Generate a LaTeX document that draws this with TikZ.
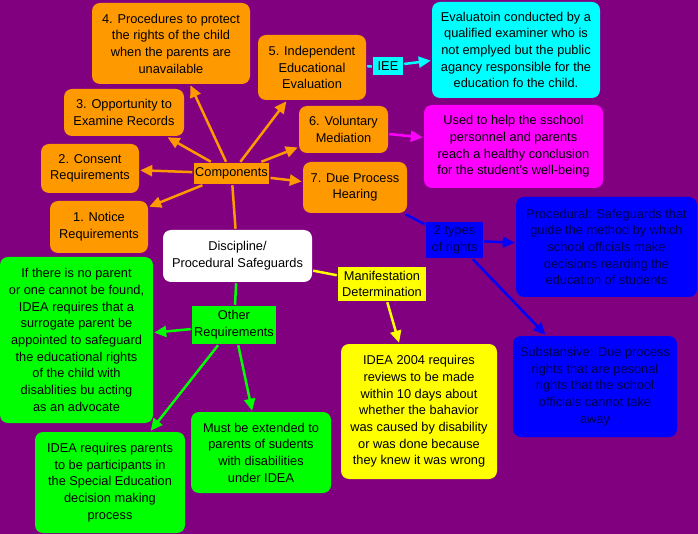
\documentclass[tikz,border=0pt]{standalone}
\usepackage{fontspec}
\setmainfont{Liberation Sans}
\usepackage{tikz}
\usetikzlibrary{arrows.meta}

\definecolor{bgpurple}{RGB}{128,0,128}
\definecolor{corange}{RGB}{255,153,0}
\definecolor{cgreen}{RGB}{0,255,0}
\definecolor{ccyan}{RGB}{0,255,255}
\definecolor{cmagenta}{RGB}{255,0,255}
\definecolor{cyellow}{RGB}{255,255,0}
\definecolor{cblue}{RGB}{0,0,255}
\definecolor{cnavy}{RGB}{0,0,80}

\begin{document}
\begin{tikzpicture}[x=1pt,y=-1pt,
	> = {Triangle[length=12pt,width=11pt]}, % arrow head style
	line width=2.5pt, % line style
	every node/.style={align=center,inner sep=0pt,font=\fontsize{12.8}{16.7}\selectfont},
	sz/.style 2 args={minimum width=#1,minimum height=#2},
	box/.style={rounded corners=8pt},
	lbl/.style={inner xsep=1.5pt}]

	% background
	\fill[bgpurple] (0,0) rectangle (698,534);
	\useasboundingbox (0,0) rectangle (698,534);

	% centre
	\node[box,fill=white,sz={149}{52}] (disc) at (237.5,256) {Discipline/\\Procedural Safeguards};

	% components
	\node[lbl,fill=corange,sz={73}{21}] (comp) at (231.5,173.5) {Components};
	\node[box,fill=corange,sz={98}{52}] (c1) at (99,227) {1. Notice\\Requirements};
	\node[box,fill=corange,sz={98}{49}] (c2) at (90,168.5) {2. Consent\\Requirements};
	\node[box,fill=corange,sz={120}{47}] (c3) at (124,112.5) {3. Opportunity to\\Examine Records};
	\node[box,fill=corange,sz={158}{81}] (c4) at (171,43.5) {4. Procedures to protect\\the rights of the child\\when the parents are\\unavailable};
	\node[box,fill=corange,sz={108}{65}] (c5) at (312,67.5) {5. Independent\\Educational\\Evaluation};
	\node[box,fill=corange,sz={89}{47}] (c6) at (343.5,129.5) {6. Voluntary\\Mediation};
	\node[box,fill=corange,sz={104}{51}] (c7) at (355,187.5) {7. Due Process\\Hearing};

	\node[lbl,fill=ccyan,sz={30}{18}] (iee) at (388,66) {IEE};
	\node[box,fill=ccyan,sz={168}{96}] (eval) at (516,50) {Evaluatoin conducted by a\\qualified examiner who is\\not emplyed but the public\\agancy responsible for the\\education fo the child.};
	\node[box,fill=cmagenta,sz={179}{83}] (medi) at (513.5,146.5) {Used to help the sschool\\personnel and parents\\reach a healthy conclusion\\for the student's well-being};

	\node[lbl,fill=cblue,text=cnavy,sz={57}{36}] (types) at (454.5,240) {2 types\\of rights};
	\node[box,fill=cblue,text=cnavy,sz={181}{100}] (proc) at (606.5,247) {Procedural: Safeguards that\\guide the method by which\\school officials make\\decisions rearding the\\education of students};
	\node[box,fill=cblue,text=cnavy,sz={164}{101}] (subs) at (595,386.5) {Substansive: Due process\\rights that are pesonal\\rights that the school\\officials cannot take\\away};

	% manifestation
	\node[lbl,fill=cyellow,sz={88}{34}] (mani) at (382,284) {Manifestation\\Determination};
	\node[box,fill=cyellow,sz={156}{135}] (revw) at (419,411.5) {IDEA 2004 requires\\reviews to be made\\within 10 days about\\whether the bahavior\\was caused by disability\\or was done because\\they knew it was wrong};

	% other requirements
	\node[lbl,fill=cgreen,sz={84}{38}] (other) at (234,325) {Other\\Requirements};
	\node[box,fill=cgreen,sz={153}{166}] (surr) at (76.5,340) {If there is no parent\\or one cannot be found,\\IDEA requires that a\\surrogate parent be\\appointed to safeguard\\the educational rights\\of the child with\\disablities bu acting\\as an advocate};
	\node[box,fill=cgreen,sz={150}{101}] (part) at (110,482.5) {IDEA requires parents\\to be participants in\\the Special Education\\decision making\\process};
	\node[box,fill=cgreen,sz={140}{81}] (ext) at (261,452.5) {Must be extended to\\parents of sudents\\with disabilities\\under IDEA};

	\draw[corange] (disc)--(comp);
	\draw[corange,->] (comp)--(c1);
	\draw[corange,->] (comp)--(c2);
	\draw[corange,->] (comp)--(c3);
	\draw[corange,->] (comp)--(c4);
	\draw[corange,->] (comp)--(c5);
	\draw[corange,->] (comp)--(c6);
	\draw[corange,->] (comp)--(c7);

	\draw[ccyan] (c5)--(iee);
	\draw[ccyan,->] (iee)--(eval);
	\draw[cmagenta,->] (c6)--(medi);

	\draw[cblue] (c7)--(types);
	\draw[cblue,->] (types)--(proc);
	\draw[cblue,->] (types)--(subs);

	\draw[cyellow] (disc)--(mani);
	\draw[cyellow,->] (mani)--(revw);

	\draw[cgreen] (disc)--(other);
	\draw[cgreen,->] (other)--(surr);
	\draw[cgreen,->] (other)--(part);
	\draw[cgreen,->] (other)--(ext);

\end{tikzpicture}
\end{document}
